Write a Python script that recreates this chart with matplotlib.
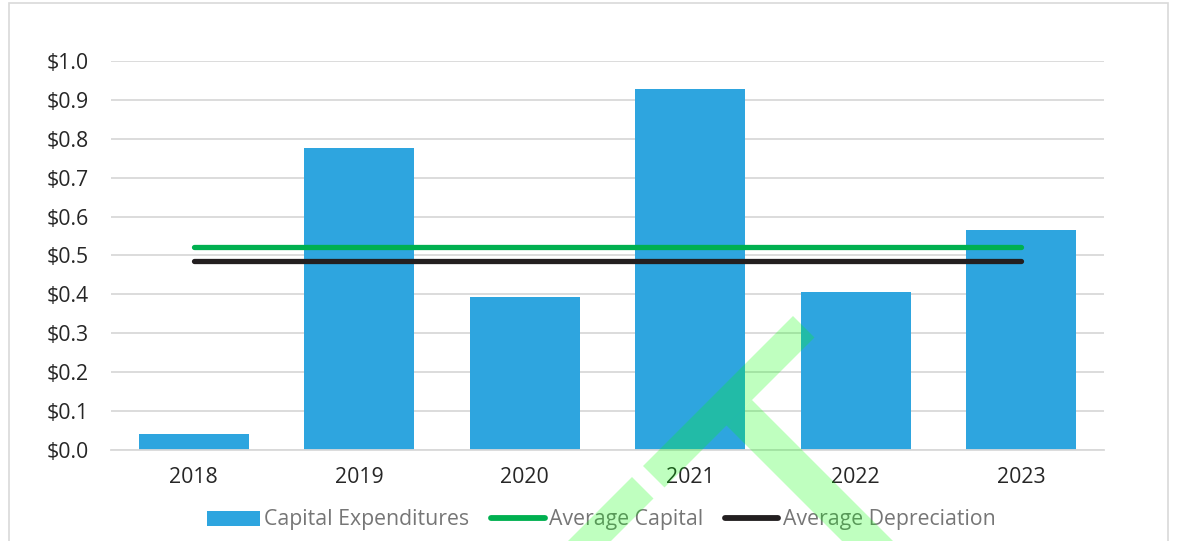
import matplotlib
matplotlib.use('Agg')
import matplotlib.pyplot as plt
from matplotlib.patches import Polygon, Rectangle
from matplotlib.lines import Line2D
import matplotlib.patches as mpatches
from matplotlib.ticker import FuncFormatter, MultipleLocator

plt.rcParams['font.family'] = ['Open Sans', 'DejaVu Sans']

years = ['2018', '2019', '2020', '2021', '2022', '2023']
capex = [0.041, 0.776, 0.393, 0.928, 0.406, 0.566]
avg_capital = 0.522
avg_depreciation = 0.486

C_BAR = '#2EA5DF'
C_GREEN = '#00B050'
C_BLACK = '#231F20'
C_GRID = '#D9D9D9'

W, H = 1177, 541
fig = plt.figure(figsize=(W / 100, H / 100), dpi=100)
fig.patch.set_facecolor('white')
ax = fig.add_axes([111 / W, 1 - 450 / H, (1104 - 111) / W, (450 - 61) / H])

x = list(range(len(years)))
ax.bar(x, capex, width=0.665, color=C_BAR, zorder=2)
ax.plot([x[0], x[-1]], [avg_capital] * 2, color=C_GREEN, lw=3.8,
        solid_capstyle='round', zorder=3)
ax.plot([x[0], x[-1]], [avg_depreciation] * 2, color=C_BLACK, lw=3.8,
        solid_capstyle='round', zorder=3)

ax.set_xlim(-0.5, len(years) - 0.5)
ax.set_ylim(0, 1.0)
ax.yaxis.set_major_locator(MultipleLocator(0.1))
ax.yaxis.set_major_formatter(FuncFormatter(lambda v, _: f'${v:.1f}'))
ax.set_xticks(x)
ax.set_xticklabels(years)
ax.grid(axis='y', color=C_GRID, lw=1.3, zorder=0)
ax.set_axisbelow(True)
for s in ['top', 'right', 'left']:
    ax.spines[s].set_visible(False)
ax.spines['bottom'].set_color(C_GRID)
ax.spines['bottom'].set_linewidth(1.3)
ax.tick_params(axis='both', length=0, labelsize=15.3, labelcolor='#262626')
ax.tick_params(axis='y', pad=16)
ax.tick_params(axis='x', pad=12)

handles = [
    mpatches.Patch(facecolor=C_BAR, label='Capital Expenditures'),
    Line2D([], [], color=C_GREEN, lw=4.2, solid_capstyle='round', label='Average Capital'),
    Line2D([], [], color=C_BLACK, lw=4.2, solid_capstyle='round', label='Average Depreciation'),
]
leg = fig.legend(handles=handles, loc='center', bbox_to_anchor=(601 / W, 1 - 520 / H),
                 ncol=3, frameon=False, fontsize=15.3, handlelength=2.5,
                 handleheight=0.7, handletextpad=0.2, columnspacing=1.05)
for t in leg.get_texts():
    t.set_color('#767676')

# outer border of the chart card
fig.add_artist(Rectangle((9 / W, -0.05), (1168 - 9) / W, 1.05 - 3 / H,
                         transform=fig.transFigure, fill=False,
                         edgecolor=C_GRID, lw=1.2, zorder=0))


def px(pts):
    return [(a / W, 1 - b / H) for a, b in pts]


# translucent green mark across the lower half
mark = [
    [(793, 316), (814.5, 337.5), (664.5, 487.5), (643, 466)],
    [(632, 477), (653.5, 498.5), (551, 601), (529.5, 579.5)],
    [(752, 400), (952, 600), (901, 600), (726.5, 425.5)],
]
for poly in mark:
    fig.add_artist(Polygon(px(poly), closed=True, transform=fig.transFigure,
                           facecolor=(0, 1, 0, 0.25), edgecolor='none', zorder=10))

plt.savefig('out.png', dpi=100, facecolor='white')
